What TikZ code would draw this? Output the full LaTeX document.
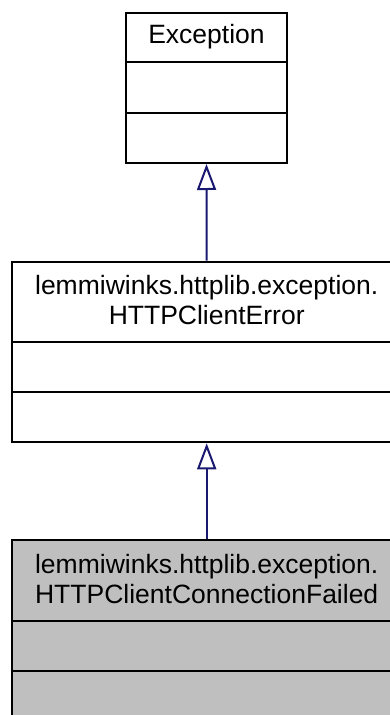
\documentclass[tikz,border=0pt]{standalone}
\usepackage{fontspec}
\setmainfont{Liberation Sans}
\usetikzlibrary{arrows.meta}
\definecolor{edgeblue}{RGB}{25,25,112}
\definecolor{boxgray}{RGB}{191,191,191}
\tikzset{
  classbox/.style={draw=black, line width=2pt, inner sep=0pt},
  classtitle/.style={align=center, inner sep=0pt},
  inherit/.style={draw=edgeblue, line width=2pt, -{Triangle[open, length=26pt, width=19pt, line width=2pt]}}
}
\begin{document}
\begin{tikzpicture}[x=1pt,y=-1pt, font=\fontsize{26.5}{30}\selectfont]
\useasboundingbox (0,0) rectangle (390,715);
\clip (0,0) rectangle (390,715);
% class boxes
\node[classbox, minimum width=161pt, minimum height=150.3pt] (exc) at (206.5,87.85) {};
\node[classbox, minimum width=388.7pt, minimum height=180.6pt] (err) at (206.7,352) {};
\node[classbox, fill=boxgray, minimum width=388.7pt, minimum height=180.6pt] (fail) at (206.7,630.3) {};
% compartments
\draw[line width=2pt] (126,62) -- (287,62);
\draw[line width=2pt] (126,113) -- (287,113);
\foreach \y in {341.7, 391.7, 620.7, 670.7}{
    \draw[line width=2pt] (12.3,\y) -- (401,\y);
}
% names
\node[classtitle] (exctitle) at (206.5,36.5) {Exception};
\node[classtitle] (errtitle) at (206.7,300.5) {lemmiwinks.httplib.exception.\\HTTPClientError};
\node[classtitle] (failtitle) at (206.7,579.5) {lemmiwinks.httplib.exception.\\HTTPClientConnectionFailed};
% generalisation
\draw[inherit] (err.north) -- (exc.south);
\draw[inherit] (fail.north) -- (err.south);
\end{tikzpicture}
\end{document}
